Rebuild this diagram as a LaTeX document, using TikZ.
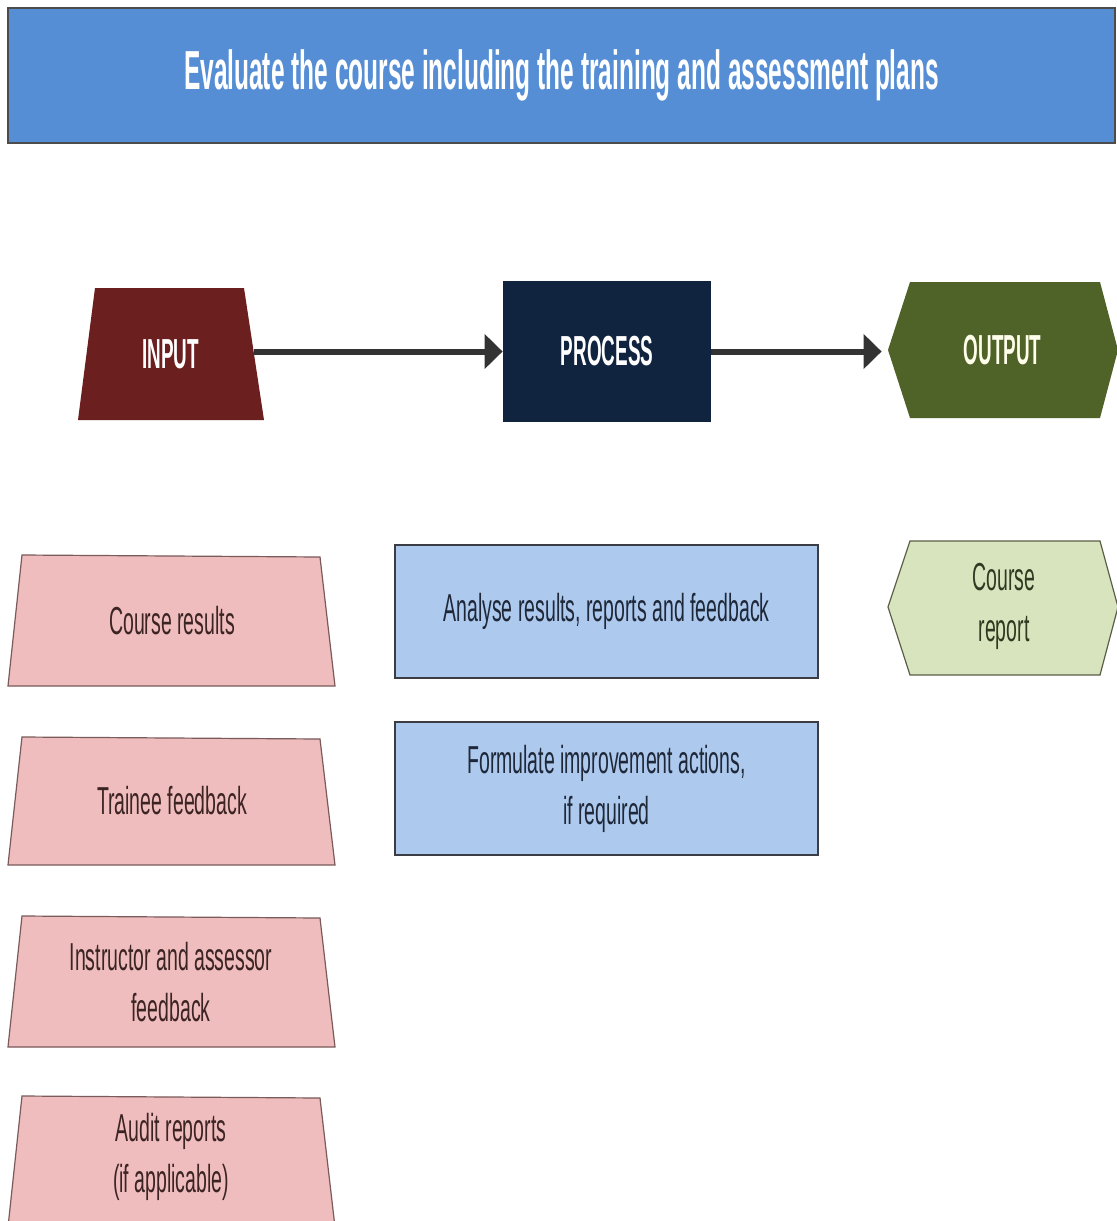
\documentclass[tikz,border=0pt]{standalone}
\usepackage{fontspec}
\setmainfont{Liberation Sans}
\newfontfamily\nar[FakeStretch=0.5]{Liberation Sans}
\newfontfamily\narb[FakeStretch=0.45]{Liberation Sans}
\newfontfamily\nart[FakeStretch=0.445]{Liberation Sans}
\usetikzlibrary{arrows.meta,calc}
\definecolor{titleblue}{HTML}{558ED5}
\definecolor{inred}{HTML}{6C1F1F}
\definecolor{procnavy}{HTML}{10243F}
\definecolor{outgreen}{HTML}{4F6228}
\definecolor{pinkfill}{HTML}{EFBDBD}
\definecolor{pinkline}{HTML}{7A5A5A}
\definecolor{pinktext}{HTML}{3D2424}
\definecolor{bluefill}{HTML}{AEC9EE}
\definecolor{blueline}{HTML}{3C3C44}
\definecolor{bluetext}{HTML}{1E2838}
\definecolor{greenfill}{HTML}{D7E4BD}
\definecolor{greenline}{HTML}{5A5E48}
\definecolor{greentext}{HTML}{2F3A22}
\definecolor{arrowgray}{HTML}{333333}
\begin{document}
\begin{tikzpicture}[x=0.5pt,y=-0.5pt,
  titlebox/.style={fill=titleblue,draw=black!70,line width=0.6pt,minimum width=553.5pt,minimum height=67.5pt,inner sep=0pt,
    text=white,font=\nart\bfseries\fontsize{27.5pt}{31pt}\selectfont},
  biglabel/.style={text=white,font=\narb\bfseries\fontsize{21pt}{25pt}\selectfont,inner sep=0pt},
  pinkshape/.style={fill=pinkfill,draw=pinkline,line width=0.6pt},
  pinklabel/.style={text=pinktext,align=center,font=\nar\fontsize{19.5pt}{25.5pt}\selectfont,inner sep=0pt},
  bluebox/.style={fill=bluefill,draw=blueline,line width=0.7pt,minimum width=211.5pt,minimum height=66.5pt,inner sep=0pt,
    text=bluetext,align=center,font=\nar\fontsize{19.5pt}{25.5pt}\selectfont},
  greenshape/.style={fill=greenfill,draw=greenline,line width=0.6pt},
  greenlabel/.style={text=greentext,align=center,font=\nar\fontsize{19.5pt}{25.5pt}\selectfont,inner sep=0pt},
  arr/.style={draw=arrowgray,line width=3pt,-{Triangle[length=9pt,width=17pt]}}
]
\useasboundingbox (0,0) rectangle (1117,1221);
\clip (0,0) rectangle (1117,1221);
\fill[white] (0,0) rectangle (1117,1221);

% title
\node[titlebox] (title) at (561.5,75.5) {Evaluate the course including the training and assessment plans};

% top row
\fill[inred] (95,288) -- (244,288) -- (264,420) -- (78,420) -- cycle;
\node[biglabel,minimum width=83.5pt,minimum height=66pt] (in) at (170.5,354) {INPUT};

\node[fill=procnavy,minimum width=104pt,minimum height=70.5pt,biglabel] (proc) at (607,351.5) {PROCESS};

\fill[outgreen] (888,350) -- (910,282) -- (1100,282) -- (1118,350) -- (1100,418) -- (910,418) -- cycle;
\node[biglabel,text=white!92!yellow,minimum width=114.5pt,minimum height=68pt] (out) at (1002.5,350) {OUTPUT};

\draw[arr] (in.east |- proc.west) -- (proc.west);
\draw[arr,shorten >=3pt] (proc.east) -- (proc.east -| out.west);

% inputs
\filldraw[pinkshape] (22,555) -- (320,557) -- (335,686) -- (8,686) -- cycle;
\node[pinklabel] (i1) at (172,621) {Course results};

\filldraw[pinkshape] (22,737) -- (320,739) -- (335,865) -- (8,865) -- cycle;
\node[pinklabel] (i2) at (172,801) {Trainee feedback};

\filldraw[pinkshape] (22,916) -- (320,918) -- (335,1047) -- (8,1047) -- cycle;
\node[pinklabel] (i3) at (171,982) {Instructor and assessor\\feedback};

\filldraw[pinkshape] (22,1096) -- (320,1098) -- (335,1227) -- (8,1227) -- cycle;
\node[pinklabel] (i4) at (171,1157) {Audit reports\\(if applicable)};

% process
\node[bluebox] (p1) at (606.5,611.5) {Analyse results, reports and feedback};
\node[bluebox] (p2) at (606.5,788.5) {Formulate improvement actions,\\if required};

% output
\filldraw[greenshape] (888,607) -- (910,541) -- (1100,541) -- (1118,607) -- (1100,675) -- (910,675) -- cycle;
\node[greenlabel] (o1) at (1004,606) {Course\\report};
\end{tikzpicture}
\end{document}
